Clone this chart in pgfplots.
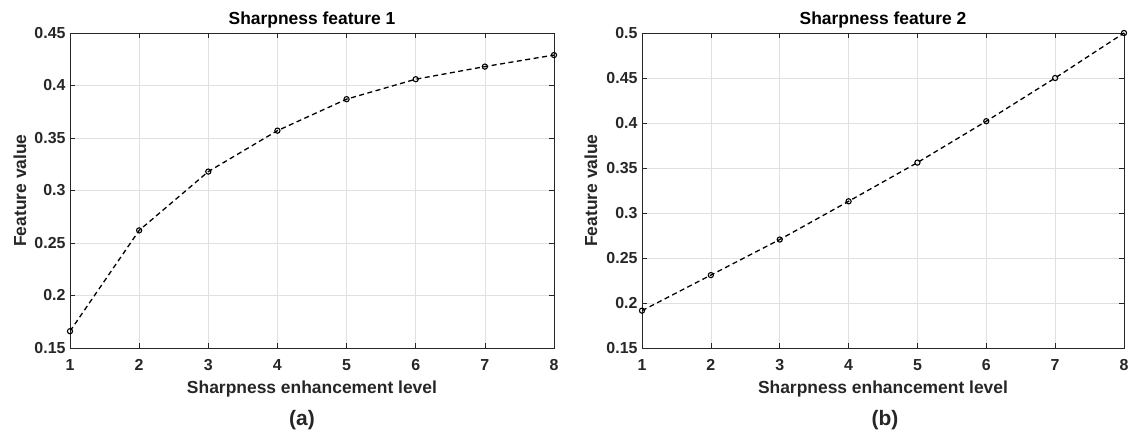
\documentclass[border=0pt]{standalone}
\usepackage{fontspec}
\setmainfont{Liberation Sans}
\usepackage{pgfplots}
\pgfplotsset{compat=1.18}
\definecolor{axc}{rgb}{0.15,0.15,0.15}
\definecolor{gridc}{rgb}{0.88,0.88,0.88}
\pgfplotsset{
  mystyle/.style={
    scale only axis,
    height=315bp,
    xmin=1, xmax=8,
    xtick={1,2,3,4,5,6,7,8},
    tick align=inside,
    major tick length=5bp,
    grid=major,
    major grid style={draw=gridc, line width=0.6bp},
    axis line style={draw=axc, line width=0.9bp},
    every tick/.style={draw=axc, line width=0.6bp},
    /pgf/number format/assume math mode=true,
    /pgf/number format/fixed,
    /pgf/number format/precision=2,
    ticklabel style={font=\fontsize{16}{16}\selectfont\bfseries, text=axc},
    xticklabel style={anchor=center, yshift=-17bp},
    yticklabel style={anchor=east, xshift=-1bp},
    label style={font=\fontsize{17.5}{18}\selectfont\bfseries, text=axc},
    xlabel style={at={(axis description cs:0.5,0)}, anchor=center, yshift=-41bp},
    ylabel style={at={(axis description cs:0,0.5)}, anchor=center},
    title style={at={(axis description cs:0.5,1)}, anchor=center, yshift=7bp, font=\fontsize{17.5}{18}\selectfont\bfseries, text=black},
    xlabel={Sharpness enhancement level},
    ylabel={Feature value},
  },
  mydata/.style={black, line width=1.3bp, dash pattern=on 5bp off 3.5bp,
    mark=o, mark size=2.6bp, mark options={solid, line width=1.1bp}},
}
\begin{document}
\begin{tikzpicture}
\useasboundingbox (0,0) rectangle (1129bp,434bp);
\begin{axis}[mystyle,
  at={(70bp,86bp)}, anchor=south west,
  width=484bp,
  ymin=0.15, ymax=0.45,
  ytick={0.15,0.2,0.25,0.3,0.35,0.4,0.45},
  yticklabels={0.15,0.2,0.25,0.3,0.35,0.4,0.45},
  ylabel style={yshift=50bp},
  title={Sharpness feature 1},
]
\addplot[mydata] coordinates {
(1,0.166) (2,0.262) (3,0.318) (4,0.357) (5,0.387) (6,0.406) (7,0.418) (8,0.429)
};
\end{axis}
\node[font=\fontsize{21}{22}\selectfont\bfseries, text=axc] at (302bp,14bp) {(a)};
\begin{axis}[mystyle,
  at={(642bp,86bp)}, anchor=south west,
  width=482bp,
  ymin=0.15, ymax=0.5,
  ytick={0.15,0.2,0.25,0.3,0.35,0.4,0.45,0.5},
  yticklabels={0.15,0.2,0.25,0.3,0.35,0.4,0.45,0.5},
  ylabel style={yshift=51bp},
  title={Sharpness feature 2},
]
\addplot[mydata] coordinates {
(1,0.1915) (2,0.231) (3,0.2705) (4,0.313) (5,0.356) (6,0.402) (7,0.450) (8,0.500)
};
\end{axis}
\node[font=\fontsize{21}{22}\selectfont\bfseries, text=axc] at (885bp,14bp) {(b)};
\end{tikzpicture}
\end{document}
